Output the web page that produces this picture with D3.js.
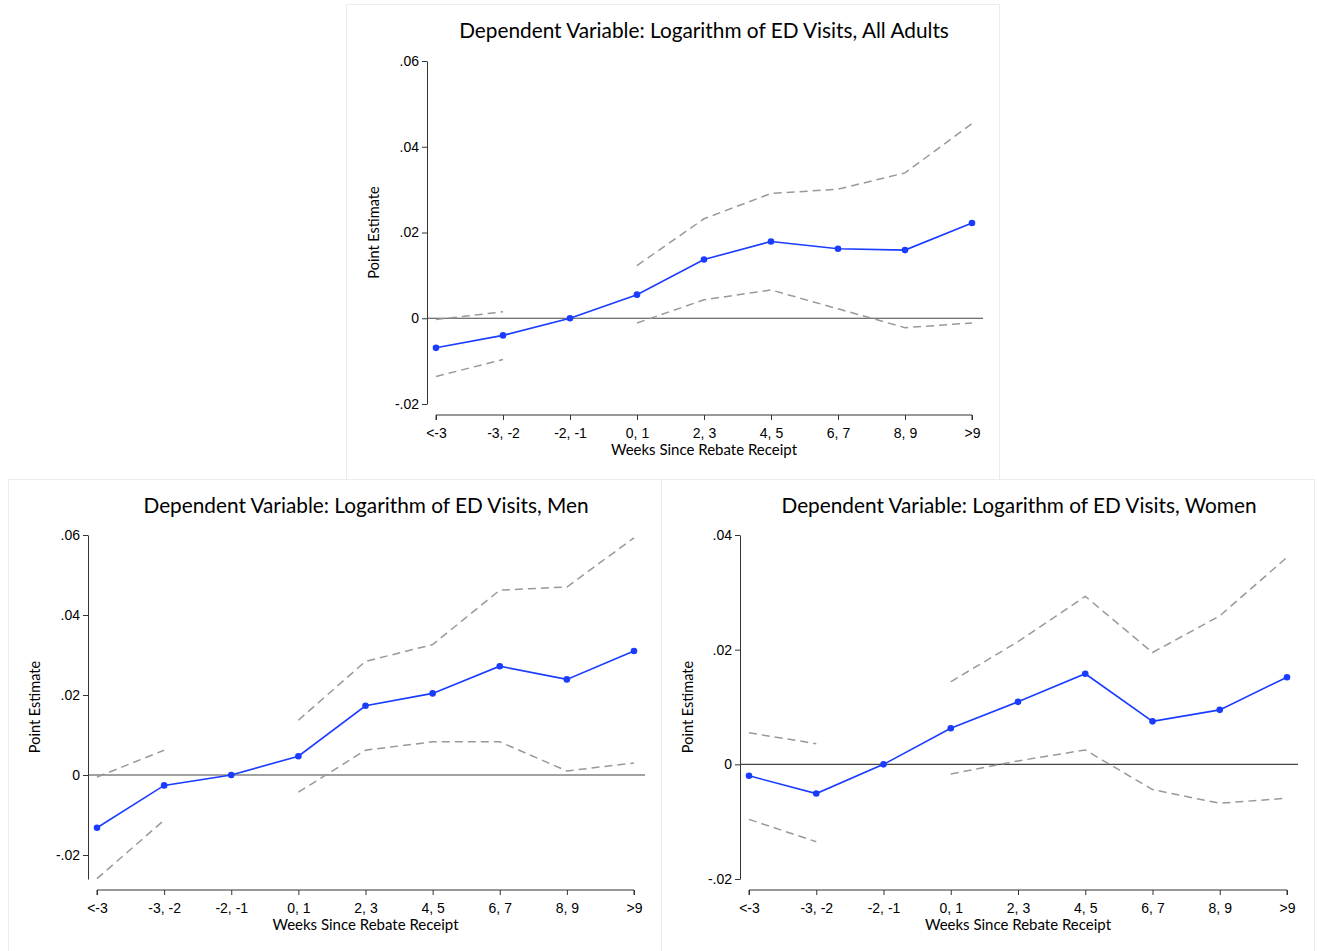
<!DOCTYPE html>
<html>
<head>
<meta charset="utf-8">
<script src="https://cdn.jsdelivr.net/npm/d3@7"></script>
<style>
  body { margin: 0; background: #fff; }
  svg { display: block; font-family: Lato, "Open Sans", sans-serif; }
  .panel-box { fill: #fff; stroke: #ececec; stroke-width: 1; }
  .axis path, .axis line { stroke: #333; stroke-width: 1; }
  .axis text { font-size: 14px; fill: #000; }
  .zero-line { stroke: #444; stroke-width: 1.2; }
  .ci { fill: none; stroke: #999; stroke-width: 1.5; stroke-dasharray: 8,5; }
  .est { fill: none; stroke: #1a3cff; stroke-width: 1.6; }
  .dot { fill: #1a3cff; }
</style>
</head>
<body>
<div id="chart"></div>
<script>
// week bins on the x axis
const weeks = ['<-3', '-3, -2', '-2, -1', '0, 1', '2, 3', '4, 5', '6, 7', '8, 9', '>9'];

// all adults
const allEst   = [-0.0069, -0.0040, 0, 0.0055, 0.0137, 0.0179, 0.0162, 0.0159, 0.0222];
const allUpper = [-0.0003, 0.0015, null, 0.0123, 0.0232, 0.0291, 0.0301, 0.0339, 0.0454];
const allLower = [-0.0136, -0.0096, null, -0.0011, 0.0043, 0.0066, 0.0022, -0.0022, -0.0011];

// men
const menEst   = [-0.0132, -0.0026, 0, 0.0047, 0.0173, 0.0204, 0.0272, 0.0239, 0.0310];
const menUpper = [-0.0005, 0.0062, null, 0.0137, 0.0284, 0.0326, 0.0462, 0.0470, 0.0593];
const menLower = [-0.0259, -0.0113, null, -0.0043, 0.0062, 0.0083, 0.0083, 0.0010, 0.0030];

// women
const womenEst   = [-0.0020, -0.0051, 0, 0.0063, 0.0109, 0.0158, 0.0075, 0.0095, 0.0152];
const womenUpper = [0.0055, 0.0036, null, 0.0144, 0.0214, 0.0293, 0.0195, 0.0259, 0.0361];
const womenLower = [-0.0096, -0.0135, null, -0.0017, 0.0006, 0.0025, -0.0044, -0.0068, -0.0059];

const allTicks = [-0.02, 0, 0.02, 0.04, 0.06];
const menTicks = [-0.02, 0, 0.02, 0.04, 0.06];
const womenTicks = [-0.02, 0, 0.02, 0.04];

const W = 1317, H = 951;
const svg = d3.select('#chart').append('svg').attr('width', W).attr('height', H);

// stata style: .02, -.02, 0 (plain hyphen)
const tickFmt = v => v === 0 ? '0' : (v < 0 ? '-' : '') + Math.abs(v).toFixed(2).replace(/^0/, '');

function drawPanel(p) {
    const g = svg.append('g');
    g.append('rect').attr('class', 'panel-box')
        .attr('x', p.box[0] + 0.5).attr('y', p.box[1] + 0.5)
        .attr('width', p.box[2]).attr('height', p.box[3]);

    const x = d3.scalePoint().domain(weeks).range([p.left + 9, p.right - 11]);
    const y = d3.scaleLinear().domain(p.yDomain).range([p.yBottom, p.yTop]);

    // y axis
    const yAxis = d3.axisLeft(y).tickValues(p.ticks).tickFormat(tickFmt)
        .tickSizeInner(5).tickSizeOuter(0).tickPadding(3);
    g.append('g').attr('class', 'axis')
        .attr('transform', `translate(${p.left},0)`)
        .call(yAxis);

    // x axis
    const xAxis = d3.axisBottom(x).tickSizeInner(5).tickSizeOuter(0).tickPadding(8);
    const xg = g.append('g').attr('class', 'axis')
        .attr('transform', `translate(0,${p.xAxisY})`)
        .call(xAxis);
    xg.select('.domain').attr('d', `M${x(weeks[0])},5V0H${x(weeks[weeks.length - 1])}V5`);

    // zero reference line
    g.append('line').attr('class', 'zero-line')
        .attr('x1', p.left).attr('x2', p.right)
        .attr('y1', y(0)).attr('y2', y(0));

    const line = d3.line()
        .defined(d => d.v != null)
        .x(d => x(d.w))
        .y(d => y(d.v));
    const rows = arr => weeks.map((w, i) => ({w: w, v: arr[i]}));

    g.append('path').attr('class', 'ci').attr('d', line(rows(p.upper)));
    g.append('path').attr('class', 'ci').attr('d', line(rows(p.lower)));
    g.append('path').attr('class', 'est').attr('d', line(rows(p.est)));
    g.selectAll('.dot').data(rows(p.est)).enter()
        .append('circle').attr('class', 'dot')
        .attr('cx', d => x(d.w)).attr('cy', d => y(d.v)).attr('r', 3.3);

    // titles
    g.append('text').attr('x', p.titleX).attr('y', p.titleY)
        .attr('text-anchor', 'middle').attr('dominant-baseline', 'middle')
        .style('font-size', '20.8px').text(p.title);
    g.append('text')
        .attr('x', (x(weeks[0]) + x(weeks[weeks.length - 1])) / 2)
        .attr('y', p.xAxisY + 36)
        .attr('text-anchor', 'middle').attr('dominant-baseline', 'middle')
        .style('font-size', '15px').text('Weeks Since Rebate Receipt');
    g.append('text')
        .attr('transform', `translate(${p.yTitleX},${(p.yTop + p.yBottom) / 2}) rotate(-90)`)
        .attr('text-anchor', 'middle').attr('dominant-baseline', 'middle')
        .style('font-size', '14.5px').text('Point Estimate');
}

drawPanel({
    box: [346, 4, 653, 475],
    left: 427, right: 983, yTop: 61, yBottom: 404, xAxisY: 415,
    yDomain: [-0.02, 0.06], ticks: allTicks,
    est: allEst, upper: allUpper, lower: allLower,
    title: 'Dependent Variable: Logarithm of ED Visits, All Adults',
    titleX: 704, titleY: 33, yTitleX: 375
});

drawPanel({
    box: [8, 479, 653, 475],
    left: 88, right: 645, yTop: 535, yBottom: 879, xAxisY: 890,
    yDomain: [-0.026, 0.06], ticks: menTicks,
    est: menEst, upper: menUpper, lower: menLower,
    title: 'Dependent Variable: Logarithm of ED Visits, Men',
    titleX: 366, titleY: 508, yTitleX: 36
});

drawPanel({
    box: [661, 479, 653, 475],
    left: 740, right: 1298, yTop: 535, yBottom: 879, xAxisY: 890,
    yDomain: [-0.02, 0.04], ticks: womenTicks,
    est: womenEst, upper: womenUpper, lower: womenLower,
    title: 'Dependent Variable: Logarithm of ED Visits, Women',
    titleX: 1019, titleY: 508, yTitleX: 689
});
</script>
</body>
</html>
